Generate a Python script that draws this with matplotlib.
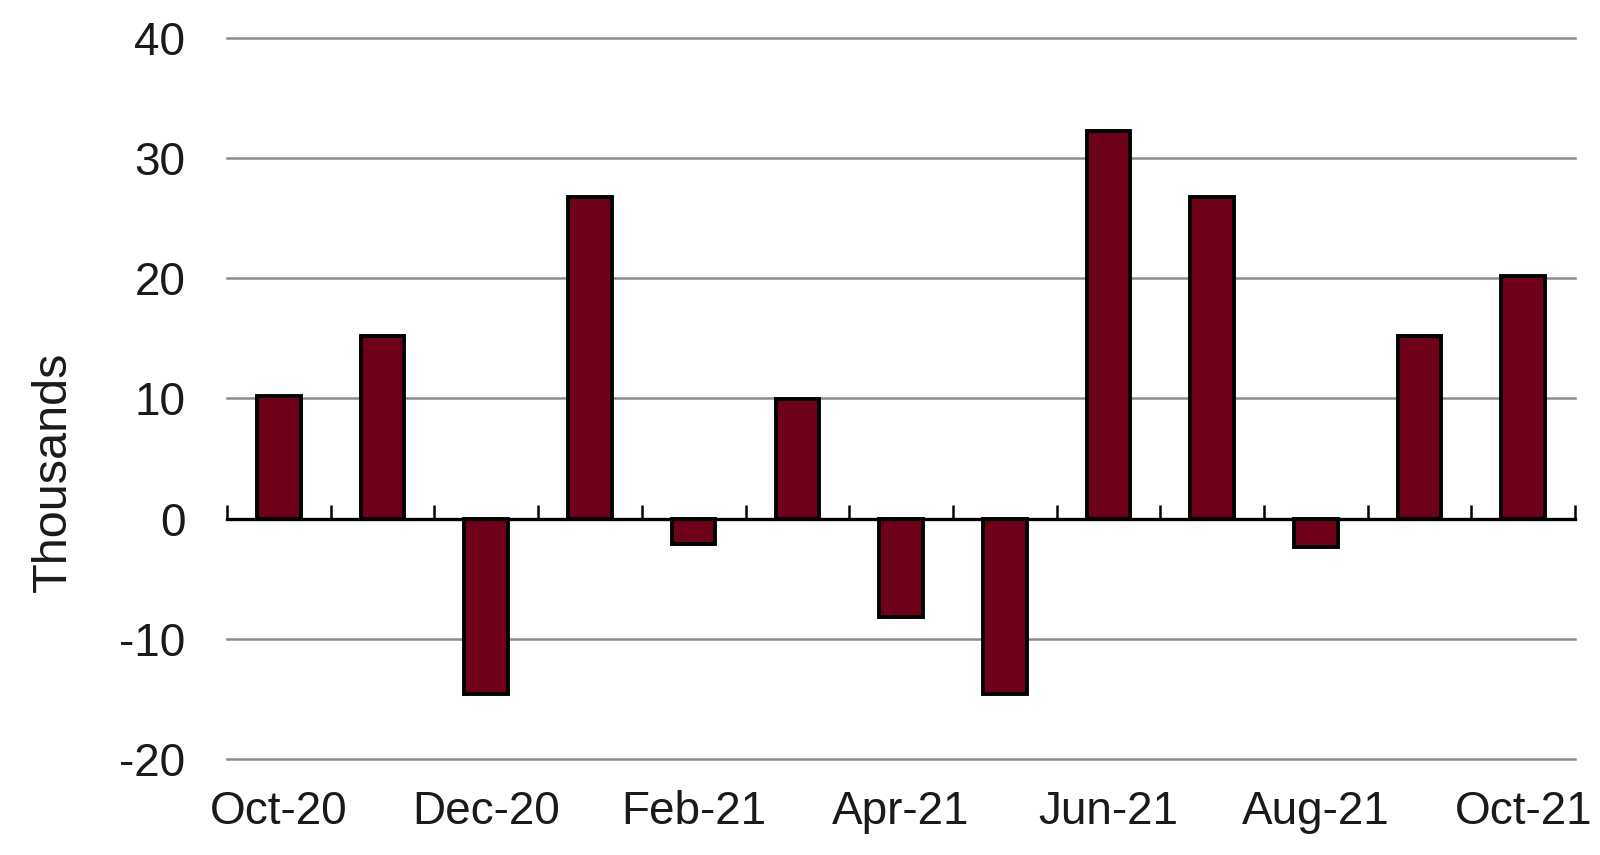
import matplotlib
matplotlib.use("Agg")
import matplotlib.pyplot as plt

# data (thousands)
months = ["Oct-20", "Nov-20", "Dec-20", "Jan-21", "Feb-21", "Mar-21", "Apr-21",
          "May-21", "Jun-21", "Jul-21", "Aug-21", "Sep-21", "Oct-21"]
values = [10.2, 15.2, -14.6, 26.7, -2.1, 9.9, -8.2, -14.6, 32.2, 26.7, -2.4, 15.2, 20.2]
yticks = [-20, -10, 0, 10, 20, 30, 40]

plt.rcParams["font.family"] = ["Liberation Sans", "DejaVu Sans"]
plt.rcParams["axes.unicode_minus"] = False

fig = plt.figure(figsize=(16, 8.55), dpi=100)
ax = fig.add_axes([0.1419, 0.1123, 0.8425, 0.8438])

x = list(range(len(months)))
ax.bar(x, values, width=0.42, color="#6E0018", edgecolor="black", linewidth=2.8, zorder=3)

ax.set_xlim(-0.5, len(months) - 0.5)
ax.set_ylim(-20, 40)

# gridlines
ax.set_yticks(yticks)
ax.yaxis.grid(True, color="#8C8C8C", linewidth=1.8, zorder=0)
ax.set_axisbelow(True)
for gl in ax.get_ygridlines():
    gl.set_clip_on(False)
ax.tick_params(axis="y", length=0, pad=30, labelsize=33, labelcolor="#1A1A1A")

# category labels at bottom, every other month
ax.set_xticks(x[::2])
ax.set_xticklabels(months[::2])
ax.tick_params(axis="x", length=0, pad=22, labelsize=33, labelcolor="#1A1A1A")

for s in ["left", "right", "top", "bottom"]:
    ax.spines[s].set_visible(False)

# zero axis line with upward tick marks at category boundaries
zero_frac = (0 - (-20)) / (40 - (-20))
sec = ax.secondary_xaxis(zero_frac)
sec.set_zorder(5)
sec.set_xticks([i - 0.5 for i in range(len(months) + 1)])
sec.tick_params(axis="x", direction="in", length=10, width=1.8, color="black",
                labelbottom=False, labeltop=False)
sec.spines["bottom"].set_linewidth(2.4)
sec.spines["bottom"].set_color("black")

# y label sits a bit below the centre of the axis, like the original
ax.set_ylabel("Thousands", fontsize=35, color="#1A1A1A")
ax.yaxis.set_label_coords(-0.112, 0.398)

fig.savefig("out.png", dpi=100)
